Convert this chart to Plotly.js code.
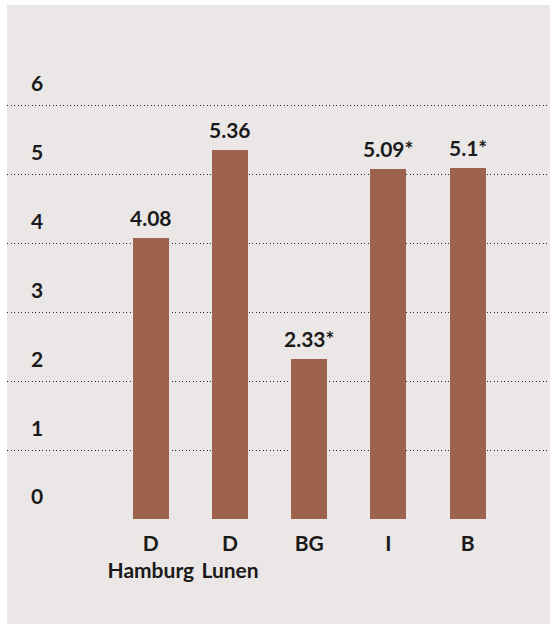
<!DOCTYPE html>
<html>
<head>
<meta charset="utf-8">
<script src="https://cdn.plot.ly/plotly-3.0.1.min.js"></script>
<style>
  html, body { margin: 0; padding: 0; background: #ffffff; }
  #chart { position: absolute; left: 7px; top: 5px; width: 543px; height: 619px; background: #ebe7e6; }
</style>
</head>
<body>
<div id="chart"></div>
<script>
const categories = ["D<br>Hamburg", "D<br>Lunen", "BG", "I", "B"];
const values = [4.08, 5.36, 2.33, 5.09, 5.1];
const valueLabels = ["4.08", "5.36", "2.33*", "5.09*", "5.1*"];
const yTicks = [0, 1, 2, 3, 4, 5, 6];

const fontFam = "Lato, 'Open Sans', 'DejaVu Sans', sans-serif";
const textColor = "#1a1a1a";

const trace = {
  type: "bar",
  x: categories,
  y: values,
  cliponaxis: false,
  marker: { color: "#9e634d" },
  width: 0.455,
  hoverinfo: "skip"
};

const annotations = categories.map((c, i) => ({
  x: c,
  y: values[i],
  xref: "x",
  yref: "y",
  text: valueLabels[i],
  showarrow: false,
  yanchor: "bottom",
  yshift: 6,
  font: { family: fontFam, size: 21, color: textColor, weight: 700 }
}));

const layout = {
  width: 543,
  height: 619,
  margin: { l: 0, r: 0, t: 0, b: 105 },
  paper_bgcolor: "#ebe7e6",
  plot_bgcolor: "#ebe7e6",
  showlegend: false,
  bargap: 0,
  annotations: annotations,
  xaxis: {
    type: "category",
    range: [-1.816, 5.04],
    showgrid: false,
    zeroline: false,
    showline: false,
    ticks: "",
    tickangle: 0,
    ticklabelstandoff: 10,
    tickfont: { family: fontFam, size: 21, color: textColor, weight: 700 }
  },
  yaxis: {
    range: [0, 7.467],
    tickvals: yTicks,
    ticktext: yTicks.map(String),
    showgrid: true,
    gridcolor: "#2a2a2a",
    gridwidth: 1,
    griddash: "1px,2.5px",
    zeroline: false,
    showline: false,
    ticks: "",
    ticklabelposition: "inside",
    ticklabelstandoff: 21,
    ticklabelshift: -22,
    tickfont: { family: fontFam, size: 21, color: textColor, weight: 700 }
  }
};

Plotly.newPlot("chart", [trace], layout, { displayModeBar: false, staticPlot: true });
</script>
</body>
</html>
